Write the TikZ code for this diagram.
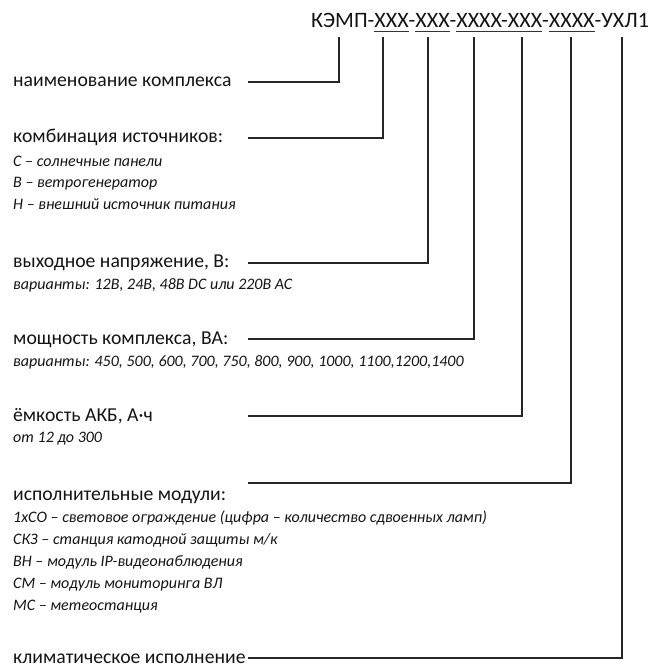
\documentclass[tikz,border=0pt]{standalone}
\usepackage{fontspec}
\setmainfont{Carlito}
\newcommand{\myul}[1]{\setbox0\hbox{#1}\rlap{\color{black!80}\rule[-4.2pt]{\wd0}{1.1pt}}\box0}
\begin{document}
\begin{tikzpicture}[x=1pt,y=-1pt,
  lab/.style={anchor=base west, inner sep=0pt, text=black!92, font=\fontsize{19.7}{20}\selectfont},
  sub/.style={anchor=base west, inner sep=0pt, text=black!92, font=\fontsize{16}{16}\selectfont\itshape},
  conn/.style={line width=1.2pt, draw=black!85}]
\useasboundingbox (0,0) rectangle (648,668);
\node[anchor=base west, inner sep=0pt, text=black!92, font=\fontsize{22}{22}\selectfont] (title) at (311,28)
  {КЭМП-\myul{XXX}-\myul{XXX}-\myul{XXXX-XXX}-\myul{XXXX}-УХЛ1};
% top ends of connectors
\coordinate (t1) at (339,37);
\coordinate (t2) at (383,37);
\coordinate (t3) at (428,37);
\coordinate (t4) at (474,37);
\coordinate (t5) at (522,37);
\coordinate (t6) at (571,37);
\coordinate (t7) at (622,37);
% labels
\node[lab] (n1) at (13,87) {наименование комплекса};
\node[lab] (n2) at (13,143) {комбинация источников:};
\node[sub] (s21) at (13,167) {С – солнечные панели};
\node[sub] (s22) at (13,188) {В – ветрогенератор};
\node[sub] (s23) at (13,209) {Н – внешний источник питания};
\node[lab] (n3) at (13,267) {выходное напряжение, В:};
\node[sub] (s31) at (13,289) {варианты: 12В, 24В, 48В DC или 220В AC};
\node[lab] (n4) at (13,344) {мощность комплекса, ВА:};
\node[sub] (s41) at (13,366) {варианты: 450, 500, 600, 700, 750, 800, 900, 1000, 1100,1200,1400};
\node[lab] (n5) at (13,421) {ёмкость АКБ, А·ч};
\node[sub] (s51) at (13,442) {от 12 до 300};
\node[lab] (n6) at (13,500) {исполнительные модули:};
\node[sub] (s61) at (13,522) {1хСО – световое ограждение (цифра – количество сдвоенных ламп)};
\node[sub] (s62) at (13,544) {СКЗ – станция катодной защиты м/к};
\node[sub] (s63) at (13,566) {ВН – модуль IP-видеонаблюдения};
\node[sub] (s64) at (13,588) {СМ – модуль мониторинга ВЛ};
\node[sub] (s65) at (13,610) {МС – метеостанция};
\node[lab] (n7) at (13,663) {климатическое исполнение};
% start points of connectors
\coordinate (c1) at (248,82);
\coordinate (c2) at (248,138);
\coordinate (c3) at (248,263);
\coordinate (c4) at (248,339);
\coordinate (c5) at (248,416);
\coordinate (c6) at (248,483);
\coordinate (c7) at (248,658);
\draw[conn] (c1) -| (t1);
\draw[conn] (c2) -| (t2);
\draw[conn] (c3) -| (t3);
\draw[conn] (c4) -| (t4);
\draw[conn] (c5) -| (t5);
\draw[conn] (c6) -| (t6);
\draw[conn] (c7) -| (t7);
\end{tikzpicture}
\end{document}
